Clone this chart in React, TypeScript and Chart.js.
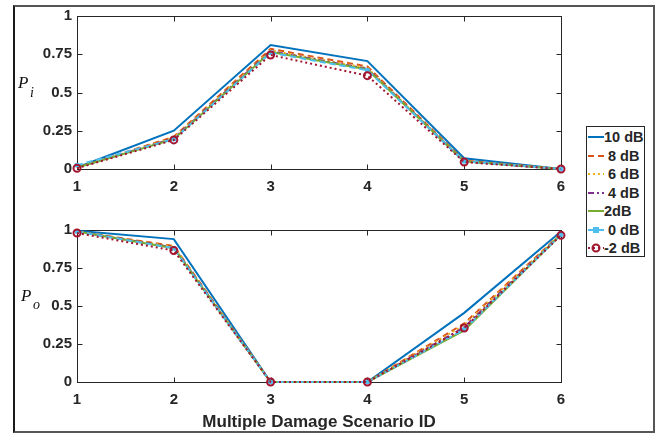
import React, { useEffect, useRef } from "react";
import { Chart, registerables } from "chart.js";

Chart.register(...registerables);

// ---- data ----
const categories = ["1", "2", "3", "4", "5", "6"];
const yTickValues = [0, 0.25, 0.5, 0.75, 1];
const yTickLabels = ["0", "0.25", "0.5", "0.75", "1"];
const seriesLabels = ["10 dB", " 8 dB", " 6 dB", " 4 dB", "2dB", " 0 dB", "-2 dB"];

// P_i (top panel)
const pi10 = [0.01, 0.25, 0.81, 0.705, 0.07, 0];
const pi8 = [0.01, 0.21, 0.785, 0.67, 0.055, 0];
const pi6 = [0.01, 0.205, 0.775, 0.66, 0.05, 0];
const pi4 = [0.01, 0.2, 0.77, 0.655, 0.05, 0];
const pi2 = [0.01, 0.195, 0.765, 0.65, 0.05, 0];
const pi0 = [0.025, 0.195, 0.76, 0.645, 0.05, 0];
const piM2 = [0.005, 0.19, 0.745, 0.61, 0.045, 0];

// P_o (bottom panel)
const po10 = [0.995, 0.94, 0, 0, 0.455, 0.99];
const po8 = [0.99, 0.895, 0, 0, 0.385, 0.975];
const po6 = [0.99, 0.89, 0, 0, 0.375, 0.975];
const po4 = [0.99, 0.885, 0, 0, 0.36, 0.97];
const po2 = [0.99, 0.88, 0, 0, 0.34, 0.97];
const po0 = [0.99, 0.88, 0, 0, 0.345, 0.97];
const poM2 = [0.98, 0.865, 0, 0, 0.355, 0.965];

const piSeries = [pi10, pi8, pi6, pi4, pi2, pi0, piM2];
const poSeries = [po10, po8, po6, po4, po2, po0, poM2];

// ---- styles ----
const colors = ["#0072BD", "#D95319", "#EDB120", "#7E2F8E", "#77AC30", "#4DBEEE", "#A2142F"];
const dashes: number[][] = [[], [6, 4], [2, 3], [6, 3, 2, 3], [], [6, 4], [2, 3]];
const pointStyles = ["circle", "circle", "circle", "circle", "circle", "rect", "circle"];
const pointRadii = [0, 0, 0, 0, 0, 2.5, 3.5];

const FONT = "'Liberation Sans', Arial, sans-serif";
const TEXT = "#262626";

const boxPlugin = {
  id: "boxTicks",
  beforeDatasetsDraw(chart: any) {
    const { ctx, chartArea: a, scales } = chart;
    ctx.save();
    ctx.strokeStyle = TEXT;
    ctx.lineWidth = 1;
    const L = Math.round(a.left) + 0.5;
    const R = Math.round(a.right) + 0.5;
    const T = Math.round(a.top) + 0.5;
    const B = Math.round(a.bottom) + 0.5;
    ctx.strokeRect(L, T, R - L, B - T);
    const len = 5;
    ctx.beginPath();
    scales.x.ticks.forEach((_t: any, i: number) => {
      const px = Math.round(scales.x.getPixelForTick(i)) + 0.5;
      ctx.moveTo(px, B);
      ctx.lineTo(px, B - len);
      ctx.moveTo(px, T);
      ctx.lineTo(px, T + len);
    });
    scales.y.ticks.forEach((_t: any, i: number) => {
      const py = Math.round(scales.y.getPixelForTick(i)) + 0.5;
      ctx.moveTo(L, py);
      ctx.lineTo(L + len, py);
      ctx.moveTo(R, py);
      ctx.lineTo(R - len, py);
    });
    ctx.stroke();
    ctx.restore();
  },
};

function makeDatasets(series: number[][]) {
  return series.map((data, i) => ({
    label: seriesLabels[i],
    data,
    borderColor: colors[i],
    backgroundColor: "rgba(0,0,0,0)",
    borderWidth: 2,
    borderDash: dashes[i],
    pointStyle: pointStyles[i],
    pointRadius: pointRadii[i],
    pointHoverRadius: pointRadii[i],
    pointBorderColor: colors[i],
    pointBackgroundColor: i === 5 ? colors[i] : "rgba(0,0,0,0)",
    pointBorderWidth: i === 6 ? 2 : 1,
    tension: 0,
    clip: false as any,
    order: 6 - i,
  }));
}

function makeOptions(pad: any, xHeight: number, showTitle: boolean): any {
  return {
    responsive: false,
    animation: false,
    layout: { padding: pad },
    plugins: { legend: { display: false }, tooltip: { enabled: false } },
    scales: {
      x: {
        type: "category",
        offset: false,
        grid: { display: false, drawTicks: false },
        border: { display: false },
        ticks: { color: TEXT, font: { family: FONT, size: 15, weight: "bold" }, padding: 9, maxRotation: 0 },
        title: {
          display: showTitle,
          text: "Multiple Damage Scenario ID",
          color: TEXT,
          font: { family: FONT, size: 17, weight: "bold" },
          padding: { top: 0, bottom: 0 },
        },
        afterFit(scale: any) {
          scale.height = xHeight;
        },
      },
      y: {
        min: 0,
        max: 1,
        grid: { display: false, drawTicks: false },
        border: { display: false },
        afterBuildTicks(scale: any) {
          scale.ticks = yTickValues.map((v) => ({ value: v }));
        },
        ticks: {
          color: TEXT,
          font: { family: FONT, size: 15, weight: "bold" },
          padding: 5,
          callback: (v: number) => {
            const k = yTickValues.indexOf(v);
            return k >= 0 ? yTickLabels[k] : "";
          },
        },
        afterFit(scale: any) {
          scale.width = 77;
        },
      },
    },
  };
}

function Panel(props: { series: number[][]; top: number; height: number; pad: any; xHeight: number; title: boolean }) {
  const ref = useRef<HTMLCanvasElement>(null);
  useEffect(() => {
    if (!ref.current) return;
    const chart = new Chart(ref.current, {
      type: "line",
      data: { labels: categories, datasets: makeDatasets(props.series) as any },
      options: makeOptions(props.pad, props.xHeight, props.title),
      plugins: [boxPlugin],
    });
    return () => chart.destroy();
  }, []);
  return (
    <canvas
      ref={ref}
      width={656}
      height={props.height}
      style={{ position: "absolute", left: 0, top: props.top, width: 656, height: props.height }}
    />
  );
}

function LegendSample({ i }: { i: number }) {
  const c = colors[i];
  return (
    <svg width={16} height={12} style={{ display: "block", flex: "0 0 auto" }}>
      <line x1={0} y1={6} x2={16} y2={6} stroke={c} strokeWidth={2} strokeDasharray={dashes[i].length ? dashes[i].join(" ") : undefined} />
      {i === 5 && <rect x={5.5} y={3.5} width={5} height={5} fill={c} stroke={c} strokeWidth={1} />}
      {i === 6 && <circle cx={8} cy={6} r={3.5} fill="none" stroke={c} strokeWidth={2} />}
    </svg>
  );
}

const serifItalic = { position: "absolute" as const, fontFamily: "'Liberation Serif', serif", fontStyle: "italic", lineHeight: 1, color: "#111" };

export default function App() {
  const rowCenters = [10, 28.5, 47, 65.5, 84, 102.5, 121];
  return (
    <div style={{ position: "absolute", left: 0, top: 0, width: 656, height: 433, background: "#fff", overflow: "hidden" }}>
      <div
        style={{
          position: "absolute",
          left: 13,
          top: 5,
          width: 638,
          height: 424,
          borderTop: "2px solid #555",
          borderRight: "2px solid #555",
          borderBottom: "2px solid #555",
          borderLeft: "2px solid #1a1a1a",
        }}
      />
      <Panel series={piSeries} top={0} height={200} pad={{ left: 0, right: 95, top: 16, bottom: 6 }} xHeight={25} title={false} />
      <Panel series={poSeries} top={205} height={228} pad={{ left: 0, right: 95, top: 25, bottom: 0 }} xHeight={51} title={true} />

      <div style={{ ...serifItalic, left: 18, top: 74, fontSize: 17 }}>P</div>
      <div style={{ ...serifItalic, left: 30, top: 86, fontSize: 14 }}>i</div>
      <div style={{ ...serifItalic, left: 21, top: 287, fontSize: 17 }}>P</div>
      <div style={{ ...serifItalic, left: 33, top: 298, fontSize: 14 }}>o</div>

      <div
        style={{
          position: "absolute",
          left: 586,
          top: 126,
          width: 57,
          height: 129,
          border: "1px solid #262626",
          background: "#fff",
        }}
      >
        {seriesLabels.map((lab, i) => (
          <div
            key={i}
            style={{
              position: "absolute",
              left: 1,
              top: rowCenters[i] - 9,
              height: 18,
              display: "flex",
              alignItems: "center",
              whiteSpace: "pre",
              fontFamily: FONT,
              fontWeight: "bold",
              fontSize: 14.5,
              color: TEXT,
            }}
          >
            <LegendSample i={i} />
            <span>{lab}</span>
          </div>
        ))}
      </div>
    </div>
  );
}
